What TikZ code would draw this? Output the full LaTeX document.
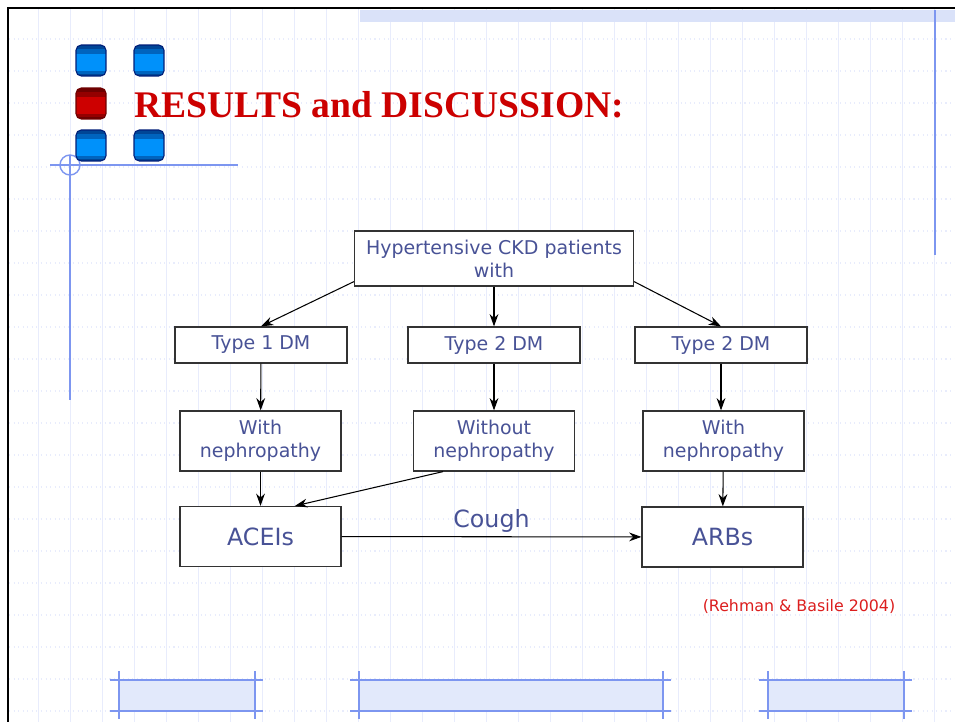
\documentclass[tikz,border=0pt]{standalone}
\usepackage{fontspec}
\setmainfont{DejaVu Sans}
\newfontfamily\titlefont{Liberation Serif}
\usetikzlibrary{arrows.meta}
\definecolor{txtblue}{RGB}{72,82,150}
\definecolor{titlered}{RGB}{204,0,0}
\definecolor{refred}{RGB}{220,30,30}
\definecolor{gridblue}{RGB}{232,236,252}
\definecolor{decoblue}{RGB}{125,150,240}
\definecolor{bandblue}{RGB}{218,226,249}
\definecolor{bulletdark}{RGB}{0,70,150}
\definecolor{bulletlight}{RGB}{0,145,250}
\definecolor{bulletedge}{RGB}{0,30,120}
\definecolor{reddark}{RGB}{110,0,0}
\definecolor{redlight}{RGB}{205,0,0}
\definecolor{fillblue}{RGB}{226,233,251}
\tikzset{
  flowbox/.style={draw=black!80,line width=0.7pt,fill=white,inner sep=0pt,align=center,text=txtblue,font=\fontsize{10.8}{13}\selectfont},
  dmbox/.style={flowbox,minimum width=3.44cm,minimum height=0.72cm},
  nephbox/.style={flowbox,minimum width=3.22cm,minimum height=1.2cm},
  drugbox/.style={flowbox,minimum width=3.22cm,minimum height=1.2cm,font=\fontsize{13.5}{16}\selectfont},
  flowarrow/.style={->,line width=0.6pt},
  decobox/.style={fill=fillblue},
  decoline/.style={draw=decoblue,line width=0.8pt}
}
\begin{document}
\begin{tikzpicture}[x=0.02cm,y=-0.02cm,>={Stealth[length=7pt,width=5pt]}]
  \useasboundingbox[fill=white] (0,0) rectangle (955,722);
  % background grid
  \foreach \x in {38,70,...,950}
    \draw[gridblue,line width=0.5pt] (\x,9) -- (\x,722);
  \foreach \y in {39,71,...,720}
    \draw[gridblue,line width=0.6pt,dotted] (9,\y) -- (955,\y);
  % slide frame and decoration
  \fill[bandblue] (360,10) rectangle (955,22);
  \draw[black,line width=1.4pt] (8,722) -- (8,8) -- (955,8);
  \draw[decoline] (935,10) -- (935,255);
  \draw[decoline] (50,165) -- (238,165);
  \draw[decoline] (70,155) -- (70,400);
  \draw[decoline] (70,165) circle[radius=10];
  \foreach \xa/\xb in {119/255,359/663,768/904}{
    \fill[decobox] (\xa,680) rectangle (\xb,711);
    \draw[decoline] (\xa-9,680) -- (\xb+8,680);
    \draw[decoline] (\xa-9,711) -- (\xb+8,711);
    \draw[decoline] (\xa,671) -- (\xa,719);
    \draw[decoline] (\xb,671) -- (\xb,719);
  }
  % bullets
  \foreach \bx/\by/\dk/\lt/\ed in {76/45/bulletdark/bulletlight/bulletedge,134/45/bulletdark/bulletlight/bulletedge,
      76/88/reddark/redlight/reddark,76/130/bulletdark/bulletlight/bulletedge,134/130/bulletdark/bulletlight/bulletedge}{
    \begin{scope}
      \clip[rounded corners=3pt] (\bx,\by) rectangle (\bx+30,\by+31);
      \fill[\lt] (\bx,\by) rectangle (\bx+30,\by+31);
      \fill[\dk] (\bx,\by) rectangle (\bx+30,\by+4);
      \fill[\dk!60!\lt] (\bx,\by+4) rectangle (\bx+30,\by+9);
      \fill[\dk!60!\lt] (\bx,\by+26) rectangle (\bx+30,\by+29);
      \fill[\dk] (\bx,\by+29) rectangle (\bx+30,\by+31);
    \end{scope}
    \draw[\ed,line width=0.6pt,rounded corners=3pt] (\bx,\by) rectangle (\bx+30,\by+31);
  }
  % title
  \node[anchor=base west,inner sep=0pt,text=titlered,font=\titlefont\bfseries\fontsize{21.4}{26}\selectfont] (title) at (134,118) {RESULTS and DISCUSSION:};
  % flow chart
  \node[flowbox,minimum width=5.58cm,minimum height=1.1cm] (hyp) at (494,258.5) {Hypertensive CKD patients\\with};
  \node[dmbox] (t1) at (261,345) {Type 1 DM};
  \node[dmbox] (t2) at (494,345) {Type 2 DM};
  \node[dmbox] (t3) at (721,345) {Type 2 DM};
  \node[nephbox] (wn1) at (260.5,441) {With\\nephropathy};
  \node[nephbox] (won) at (494,441) {Without\\nephropathy};
  \node[nephbox] (wn2) at (723.5,441) {With\\nephropathy};
  \node[drugbox] (acei) at (260.5,536.5) {ACEIs};
  \node[drugbox] (arb) at (722.5,537) {ARBs};
  \draw[flowarrow] ([yshift=0.1cm]hyp.south west) -- (t1.north);
  \draw[flowarrow] (hyp) -- (t2);
  \draw[flowarrow] ([yshift=0.1cm]hyp.south east) -- (t3.north);
  \draw[flowarrow] (t1) -- (wn1);
  \draw[flowarrow] (t2) -- (won);
  \draw[flowarrow] (t3.south) -- (t3.south |- wn2.north);
  \draw[flowarrow] (wn1) -- (acei);
  \draw[flowarrow] ([xshift=-1.02cm]won.south) -- ([xshift=0.69cm]acei.north);
  \draw[flowarrow] (wn2) -- (arb);
  \draw[flowarrow] (acei) -- (arb) node[midway,above=-1pt,text=txtblue,font=\fontsize{13.5}{16}\selectfont] (cough) {Cough};
  \node[text=refred,font=\fontsize{9}{11}\selectfont] (ref) at (799,607) {(Rehman \& Basile 2004)};
\end{tikzpicture}
\end{document}
